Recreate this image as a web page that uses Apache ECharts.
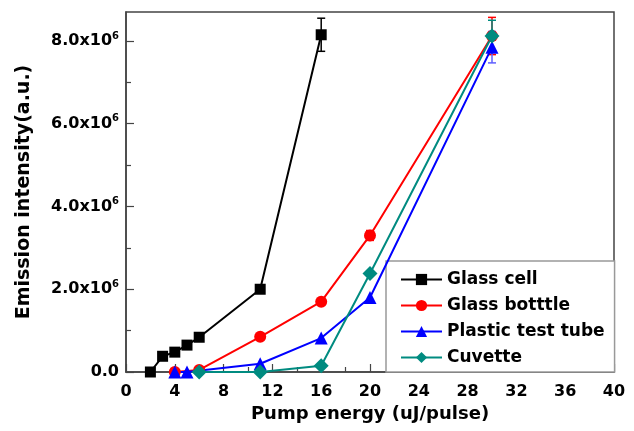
<!DOCTYPE html>
<html>
<head>
<meta charset="utf-8">
<script src="https://cdn.jsdelivr.net/npm/echarts@6/dist/echarts.min.js"></script>
<style>
    html, body { margin: 0; padding: 0; background: #fff; }
    #chart { width: 634px; height: 431px; }
</style>
</head>
<body>
<div id="chart"></div>
<script>
// pump energy (uJ/pulse) and emission intensity (a.u.) per container
const glassCellX = [2, 3, 4, 5, 6, 11, 16];
const glassCellY = [0, 0.38e6, 0.48e6, 0.65e6, 0.84e6, 2.0e6, 8.15e6];
const glassCellErr = [0, 0, 0, 0, 0, 0.05e6, 0.4e6];

const glassBottleX = [4, 6, 11, 16, 20, 30];
const glassBottleY = [0, 0.05e6, 0.85e6, 1.7e6, 3.3e6, 8.12e6];
const glassBottleErr = [0, 0, 0, 0, 0.12e6, 0.45e6];

const plasticTubeX = [4, 5, 11, 16, 20, 30];
const plasticTubeY = [0, 0, 0.2e6, 0.82e6, 1.8e6, 7.85e6];
const plasticTubeErr = [0, 0, 0, 0, 0, 0.38e6];

const cuvetteX = [6, 11, 16, 20, 30];
const cuvetteY = [0, 0, 0.15e6, 2.38e6, 8.12e6];
const cuvetteErr = [0, 0, 0, 0, 0.38e6];

const xTicks = [0, 4, 8, 12, 16, 20, 24, 28, 32, 36, 40];
const xMinorTicks = [2, 6, 10, 14, 18, 22, 26, 30, 34, 38];
const yTicks = [0, 2e6, 4e6, 6e6, 8e6];
const yMinorTicks = [1e6, 3e6, 5e6, 7e6];

const chart = echarts.init(document.getElementById("chart"));
const font = "DejaVu Sans";
const axisColor = "#444";

function pairs(xs, ys) {
    return xs.map((x, i) => [x, ys[i]]);
}

function errData(xs, ys, errs) {
    var out = [];
    xs.forEach(function (x, i) {
        if (errs[i] > 0) out.push([x, ys[i] - errs[i], ys[i] + errs[i]]);
    });
    return out;
}

function errSeries(name, color, xs, ys, errs) {
    return {
        type: "custom",
        name: name + "-err",
        z: 3,
        silent: true,
        data: errData(xs, ys, errs),
        renderItem: function (params, api) {
            var lo = api.coord([api.value(0), api.value(1)]);
            var hi = api.coord([api.value(0), api.value(2)]);
            var w = 4;
            var st = {stroke: color, lineWidth: 1.5};
            return {
                type: "group",
                children: [
                    {type: "line", shape: {x1: lo[0], y1: lo[1], x2: hi[0], y2: hi[1]}, style: st},
                    {type: "line", shape: {x1: lo[0] - w, y1: lo[1], x2: lo[0] + w, y2: lo[1]}, style: st},
                    {type: "line", shape: {x1: hi[0] - w, y1: hi[1], x2: hi[0] + w, y2: hi[1]}, style: st}
                ]
            };
        }
    };
}

function lineSeries(name, color, symbol, size, xs, ys) {
    return {
        name: name,
        type: "line",
        symbol: symbol,
        symbolSize: size,
        z: 4,
        lineStyle: {color: color, width: 2},
        itemStyle: {color: color},
        data: pairs(xs, ys)
    };
}

// minor ticks drawn as a second, label-less axis on the same grid
function minorAxis(type, ticks, min, max) {
    return {
        type: "value",
        min: min, max: max,
        position: type === "x" ? "bottom" : "left",
        axisLine: {show: false},
        axisLabel: {show: false},
        splitLine: {show: false},
        axisTick: {
            inside: true, length: 5, customValues: ticks,
            lineStyle: {color: axisColor, width: 1.2}
        }
    };
}

const option = {
    animation: false,
    backgroundColor: "#fff",
    grid: {
        left: 126, right: 20, top: 12, bottom: 59,
        show: true, borderColor: axisColor, borderWidth: 1.5
    },
    legend: {
        orient: "vertical",
        left: 386,
        top: 261,
        padding: [10, 10, 6, 14],
        itemGap: 9,
        itemWidth: 41,
        itemHeight: 14,
        backgroundColor: "#fff",
        borderColor: "#999",
        borderWidth: 1.5,
        data: ["Glass cell", "Glass botttle", "Plastic test tube", "Cuvette"],
        textStyle: {fontFamily: font, fontWeight: "bold", fontSize: 17, color: "#000"}
    },
    xAxis: [{
        type: "value",
        min: 0, max: 40,
        name: "Pump energy (uJ/pulse)",
        nameLocation: "middle",
        nameGap: 33,
        nameTextStyle: {fontFamily: font, fontWeight: "bold", fontSize: 18, color: "#000"},
        axisLine: {lineStyle: {color: axisColor, width: 1.5}},
        axisTick: {inside: true, length: 8, customValues: xTicks, lineStyle: {color: axisColor, width: 1.2}},
        splitLine: {show: false},
        axisLabel: {
            margin: 12,
            fontFamily: font, fontWeight: "bold", fontSize: 16, color: "#000",
            customValues: xTicks
        }
    }, minorAxis("x", xMinorTicks, 0, 40)],
    yAxis: [{
        type: "value",
        min: 0, max: 8.7e6,
        name: "Emission intensity(a.u.)",
        nameLocation: "middle",
        nameGap: 92,
        nameTextStyle: {fontFamily: font, fontWeight: "bold", fontSize: 19, color: "#000"},
        axisLine: {show: true, lineStyle: {color: axisColor, width: 1.5}},
        axisTick: {inside: true, length: 8, customValues: yTicks, lineStyle: {color: axisColor, width: 1.2}},
        splitLine: {show: false},
        axisLabel: {
            margin: 7,
            customValues: yTicks,
            formatter: function (v) {
                if (v === 0) return "{a|0.0}";
                return "{a|" + (v / 1e6).toFixed(1) + "x10}{b|6}";
            },
            rich: {
                a: {fontFamily: font, fontWeight: "bold", fontSize: 16, color: "#000"},
                b: {fontFamily: font, fontWeight: "bold", fontSize: 10, color: "#000", padding: [0, 0, 10, 0]}
            }
        }
    }, minorAxis("y", yMinorTicks, 0, 8.7e6)],
    series: [
        lineSeries("Glass cell", "#000000", "rect", 11, glassCellX, glassCellY),
        lineSeries("Glass botttle", "#ff0000", "circle", 12, glassBottleX, glassBottleY),
        lineSeries("Plastic test tube", "#0000ff", "triangle", 13, plasticTubeX, plasticTubeY),
        lineSeries("Cuvette", "#008b80", "diamond", 15, cuvetteX, cuvetteY),
        errSeries("Glass cell", "#000000", glassCellX, glassCellY, glassCellErr),
        errSeries("Glass botttle", "#ff0000", glassBottleX, glassBottleY, glassBottleErr),
        errSeries("Plastic test tube", "#6060ff", plasticTubeX, plasticTubeY, plasticTubeErr),
        errSeries("Cuvette", "#008b80", cuvetteX, cuvetteY, cuvetteErr)
    ]
};

chart.setOption(option);
</script>
</body>
</html>
